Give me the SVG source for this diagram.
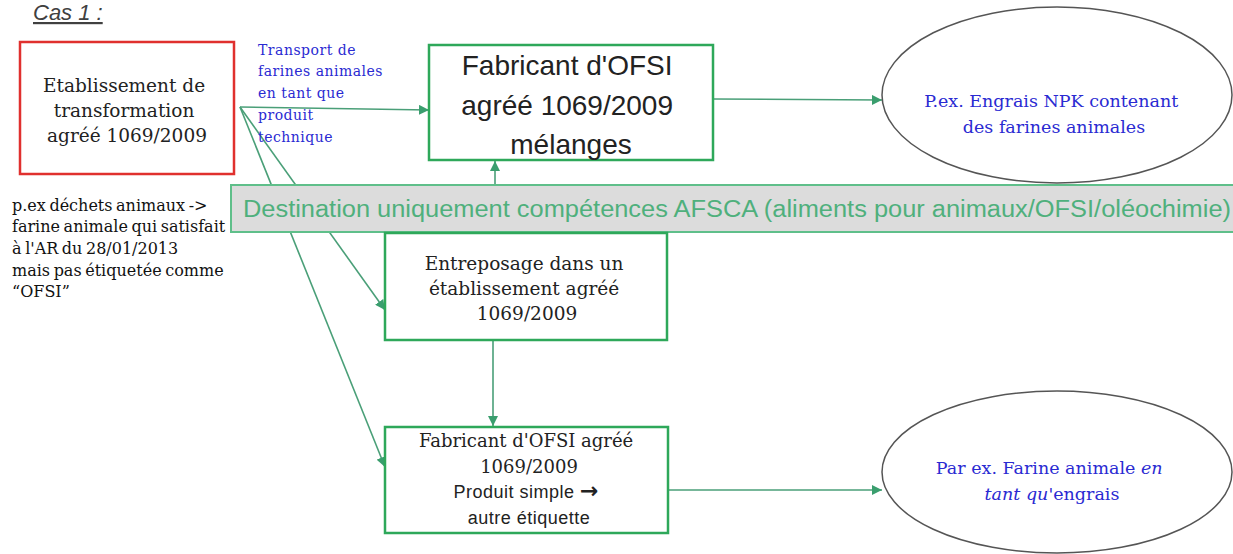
<svg xmlns="http://www.w3.org/2000/svg" width="1233" height="554" viewBox="0 0 1233 554">
<style>
.serif{font-family:"DejaVu Serif","Liberation Serif",serif;}
.sans{font-family:"Liberation Sans","Open Sans",sans-serif;}
.box{fill:#fff;stroke:#2ea85a;stroke-width:2.5;}
.ell{fill:#fff;stroke:#555;stroke-width:1.5;}
.conn{stroke:#4a9f78;stroke-width:1.6;fill:none;marker-end:url(#ah);}
.blue{fill:#2a2ad2;}
.dark{fill:#222;}
</style>
<defs>
<marker id="ah" viewBox="0 0 10 10" refX="10" refY="5" markerWidth="10" markerHeight="10" markerUnits="userSpaceOnUse" orient="auto">
<path d="M0,0 L10,5 L0,10 z" fill="#3a9e6e"/>
</marker>
</defs>
<rect width="1233" height="554" fill="#fff"/>

<text x="33" y="20" class="sans" font-size="22" font-style="italic" fill="#404040" text-decoration="underline">Cas 1 :</text>

<g id="connectors">
<line class="conn" x1="240" y1="107" x2="429" y2="110"/>
<line class="conn" x1="240" y1="107" x2="385" y2="310"/>
<line class="conn" x1="240" y1="107" x2="385" y2="467"/>
<line class="conn" x1="713" y1="99" x2="882" y2="100"/>
<line class="conn" x1="495" y1="185" x2="495" y2="161"/>
<line class="conn" x1="493" y1="341" x2="493" y2="426"/>
<line class="conn" x1="668" y1="490" x2="882" y2="490"/>
</g>

<g id="n-etablissement">
<rect x="20" y="42" width="214" height="132" fill="#fff" stroke="#e0302e" stroke-width="2.5"/>
<text class="serif dark" font-size="18.5" text-anchor="middle">
<tspan x="127" y="92">Etablissement de</tspan>
<tspan x="127" y="117">transformation</tspan>
<tspan x="127" y="142">agréé 1069/2009</tspan>
</text>
</g>

<g id="label-transport">
<text class="serif blue" font-size="14" letter-spacing="0.5">
<tspan x="258" y="55">Transport de</tspan>
<tspan x="258" y="76">farines animales</tspan>
<tspan x="258" y="98">en tant que</tspan>
<tspan x="258" y="120">produit</tspan>
<tspan x="258" y="142">technique</tspan>
</text>
</g>

<g id="n-fabricant-melanges">
<rect class="box" x="429" y="45" width="284" height="115"/>
<text class="sans dark" font-size="28" text-anchor="middle">
<tspan x="571" y="75">Fabricant d'OFSI</tspan>
<tspan x="571" y="115">agréé 1069/2009</tspan>
<tspan x="571" y="154">mélanges</tspan>
</text>
</g>

<g id="n-engrais-npk">
<ellipse class="ell" cx="1057" cy="95" rx="175" ry="88"/>
<text class="serif blue" font-size="17.5" text-anchor="middle">
<tspan x="1054" y="107">P.ex. Engrais NPK contenant</tspan>
<tspan x="1054" y="133">des farines animales</tspan>
</text>
</g>

<g id="note-dechets">
<text class="serif" font-size="16" fill="#111" word-spacing="-1.5">
<tspan x="12" y="211">p.ex déchets animaux -&gt;</tspan>
<tspan x="12" y="232">farine animale qui satisfait</tspan>
<tspan x="12" y="254">à l'AR du 28/01/2013</tspan>
<tspan x="12" y="276">mais pas étiquetée comme</tspan>
<tspan x="12" y="297">“OFSI”</tspan>
</text>
</g>

<g id="banner">
<rect x="231" y="185" width="1010" height="47" fill="#dcdcdc" stroke="#5fbf8a" stroke-width="2"/>
<text x="243" y="217" class="sans" font-size="23" fill="#4fb07c" textLength="988" lengthAdjust="spacingAndGlyphs">Destination uniquement compétences AFSCA (aliments pour animaux/OFSI/oléochimie)</text>
</g>

<g id="n-entreposage">
<rect class="box" x="385" y="233" width="282" height="107"/>
<text class="serif dark" font-size="18.5" text-anchor="middle">
<tspan x="527" y="270">Entreposage dans un</tspan>
<tspan x="527" y="295">établissement agréé</tspan>
<tspan x="527" y="320">1069/2009</tspan>
</text>
</g>

<g id="n-fabricant-simple">
<rect class="box" x="385" y="427" width="283" height="106"/>
<text class="serif dark" font-size="18" text-anchor="middle">
<tspan x="529" y="447">Fabricant d'OFSI agréé</tspan>
<tspan x="529" y="473">1069/2009</tspan>
</text>
<text class="sans dark" font-size="18" text-anchor="middle" letter-spacing="0.5">
<tspan x="529" y="498">Produit simple <tspan font-family="DejaVu Sans, sans-serif" font-weight="bold" font-size="22">→</tspan></tspan>
<tspan x="529" y="524">autre étiquette</tspan>
</text>
</g>

<g id="n-farine-engrais">
<ellipse class="ell" cx="1057" cy="472" rx="175" ry="81"/>
<text class="serif blue" font-size="17.5" text-anchor="middle">
<tspan x="1052" y="474">Par ex. Farine animale <tspan font-style="italic">en</tspan></tspan>
<tspan x="1052" y="500"><tspan font-style="italic">tant qu</tspan>'engrais</tspan>
</text>
</g>
</svg>
